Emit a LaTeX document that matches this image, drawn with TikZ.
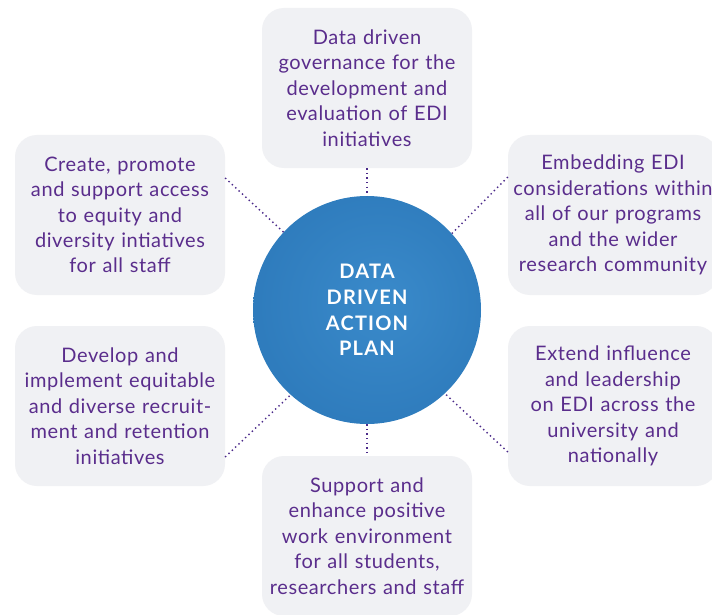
\documentclass[tikz,border=0pt]{standalone}
\usepackage{fontspec}
\setmainfont{Lato}
\newfontfamily\boxfont[LetterSpace=3]{Lato}
\newfontfamily\hubfont[LetterSpace=6]{Lato}
\definecolor{boxgray}{HTML}{F0F1F4}
\definecolor{txtpurple}{HTML}{5A2D8C}
\definecolor{dotpurple}{HTML}{4B2A8A}
\definecolor{sphA}{HTML}{3A8ACA}
\definecolor{sphB}{HTML}{2E7BBC}
\definecolor{sphC}{HTML}{17629F}
\pgfdeclareradialshading{sphere}{\pgfpoint{4bp}{2bp}}{%
  color(0bp)=(sphA); color(28bp)=(sphB); color(44bp)=(sphB!80!sphC); color(52bp)=(sphC)}
\tikzset{
  infobox/.style={fill=boxgray, rounded corners=22pt, minimum width=210pt,
    minimum height=160pt, text width=206pt, align=center, text=txtpurple,
    font=\boxfont\fontsize{20}{25.4}\selectfont, inner sep=0pt},
  dotline/.style={draw=dotpurple, line width=1.4pt, dash pattern=on 1.4pt off 3.2pt},
  hub/.style={circle, minimum size=228pt, inner sep=0pt, shading=sphere,
    text=white, align=center, font=\hubfont\bfseries\fontsize{20}{25.6}\selectfont}
}
\begin{document}
\begin{tikzpicture}[x=1pt,y=-1pt]
\useasboundingbox[fill=white] (0,0) rectangle (712,615);
\node[infobox] (top) at (367,88) {Data driven\\governance for the\\development and\\evaluation of EDI\\initiatives};
\node[infobox] (tl) at (120,215) {Create, promote\\and support access\\to equity and\\diversity intiatives\\for all staff};
\node[infobox] (tr) at (613,215) {Embedding EDI\\considerations within\\all of our programs\\and the wider\\research community};
\node[infobox] (bl) at (120,406) {Develop and\\implement equitable\\and diverse recruit-\\ment and retention\\initiatives};
\node[infobox] (br) at (613,406) {Extend influence\\and leadership\\on EDI across the\\university and\\nationally};
\node[infobox] (bot) at (367,536) {Support and\\enhance positive\\work environment\\for all students,\\researchers and staff};
\node[hub] (circ) at (367,310) {DATA\\DRIVEN\\ACTION\\PLAN};
\draw[dotline] (top.south) -- (circ.north);
\draw[dotline] (circ.south) -- (bot.north);
\draw[dotline] ([yshift=37pt]tl.east) -- (circ.137);
\draw[dotline] ([yshift=38pt]tr.west) -- (circ.42);
\draw[dotline] ([yshift=-51pt]bl.east) -- (circ.228);
\draw[dotline] ([yshift=-46pt]br.west) -- (circ.313);
\end{tikzpicture}
\end{document}
